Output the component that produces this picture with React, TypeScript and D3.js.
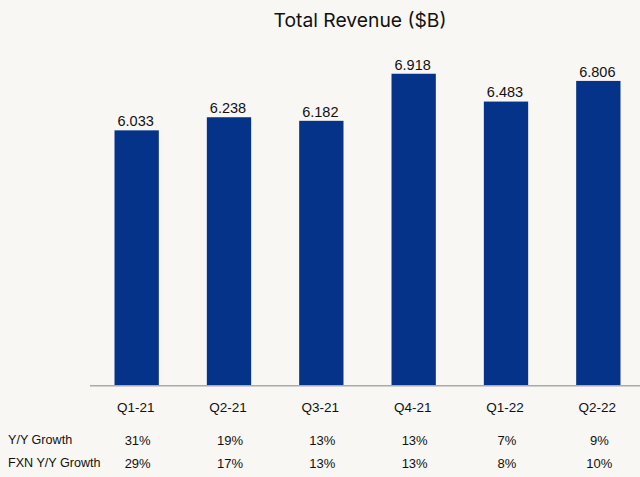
import React from "react";
import * as d3 from "d3";

const categories = ["Q1-21", "Q2-21", "Q3-21", "Q4-21", "Q1-22", "Q2-22"];
const revenue = [6.033, 6.238, 6.182, 6.918, 6.483, 6.806];
const yyGrowth = ["31%", "19%", "13%", "13%", "7%", "9%"];
const fxnGrowth = ["29%", "17%", "13%", "13%", "8%", "10%"];
const rowLabels = ["Y/Y Growth", "FXN Y/Y Growth"];
const title = "Total Revenue ($B)";

const W = 640;
const H = 477;
const baseY = 385.7;
const BAR = "#05338a";
const BG = "#f8f7f4";
const SANS = "'Liberation Sans', Arial, sans-serif";

export default function App() {
  const x = d3
    .scaleBand<string>()
    .domain(categories)
    .range([90.5, 644.5])
    .paddingInner(0.52)
    .paddingOuter(0.26);
  const y = d3.scaleLinear().domain([2.04, 7]).range([baseY, baseY - 4.96 * 63.95]);
  const cx = (c: string) => (x(c) as number) + x.bandwidth() / 2;
  const rows = [yyGrowth, fxnGrowth];
  const rowY = [445, 467.5];

  return (
    <svg
      width={W}
      height={H}
      style={{ position: "absolute", left: 0, top: 0, display: "block" }}
    >
      <rect x={0} y={0} width={W} height={H} fill={BG} />
      <text
        x={360}
        y={26.7}
        textAnchor="middle"
        fontFamily="Inter, 'Noto Sans', sans-serif"
        fontSize={19.3}
        fill="#111"
      >
        {title}
      </text>
      {categories.map((c, i) => (
        <g key={c}>
          <rect
            x={x(c)}
            y={y(revenue[i])}
            width={x.bandwidth()}
            height={baseY - y(revenue[i])}
            fill={BAR}
          />
          <text
            x={cx(c) - 1}
            y={y(revenue[i]) - 4.2}
            textAnchor="middle"
            fontFamily={SANS}
            fontSize={14.5}
            fill="#111"
          >
            {revenue[i].toFixed(3)}
          </text>
          <text
            x={cx(c) - 1}
            y={412.3}
            textAnchor="middle"
            fontFamily={SANS}
            fontSize={13.5}
            fill="#111"
          >
            {c}
          </text>
          {rows.map((r, k) => (
            <text
              key={k}
              x={cx(c) + 1}
              y={rowY[k]}
              textAnchor="middle"
              fontFamily={SANS}
              fontSize={13}
              fill="#111"
            >
              {r[i]}
            </text>
          ))}
        </g>
      ))}
      <line x1={90} x2={W} y1={baseY} y2={baseY} stroke="#aaaaaa" strokeWidth={1.5} />
      {rowLabels.map((l, k) => (
        <text key={l} x={8} y={rowY[k] - 1} fontFamily={SANS} fontSize={12.6} fill="#111">
          {l}
        </text>
      ))}
    </svg>
  );
}
